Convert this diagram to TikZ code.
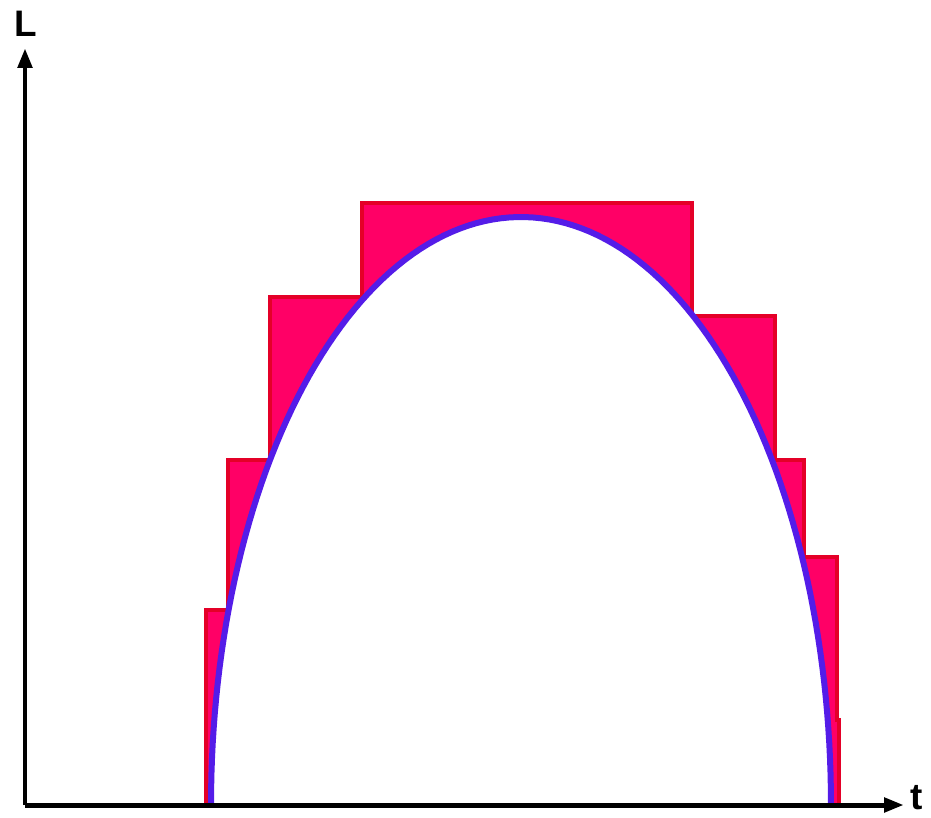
\documentclass[tikz,border=0pt]{standalone}
\usepackage{fontspec}
\setmainfont{Liberation Sans}
\usetikzlibrary{arrows.meta}
\definecolor{stairred}{RGB}{255,0,102}
\definecolor{stairedge}{RGB}{228,0,40}
\definecolor{curveblue}{RGB}{84,28,232}
\tikzset{
  stairfill/.style = {fill=stairred, draw=stairedge, line width=2pt, line join=miter},
  curveline/.style = {draw=curveblue, line width=0.12cm},
  axisarr/.style   = {-{Triangle[length=0.4cm, width=0.28cm]}, line width=0.1cm, black},
  axislabel/.style = {font=\fontsize{21}{25}\selectfont\bfseries, inner sep=0pt},
}

\begin{document}
\begin{tikzpicture}[x=0.02cm, y=-0.02cm]
    \useasboundingbox (0,0) rectangle (931,818);
    % Staircase above the curve
    \path[stairfill] (206,805) -- (206,610) -- (228,610) -- (228,460) -- (270,460)
      -- (270,297) -- (362,297) -- (362,203) -- (692,203) -- (692,316) -- (775,316)
      -- (775,460) -- (804,460) -- (804,557) -- (837,557) -- (837,720) -- (839,720)
      -- (839,805) -- cycle;
    % Region under the curve
    \fill[white] plot[domain=180:0, samples=120] ({521+310*cos(\x)},{805-588*sin(\x)}) -- cycle;
    \draw[curveline] plot[domain=180:0, samples=120] ({521+310*cos(\x)},{805-588*sin(\x)});
    % Axes
    \coordinate (origin) at (25,805);
    \coordinate (ytip) at (25,48);
    \coordinate (xtip) at (904,805);
    \draw[axisarr] (origin) -- (ytip);
    \draw[axisarr] (origin) -- (xtip);
    \node[axislabel, anchor=base] (lname) at (26,36) {L};
    \node[axislabel, anchor=base west] (tname) at (910,809) {t};
  \end{tikzpicture}
\end{document}
